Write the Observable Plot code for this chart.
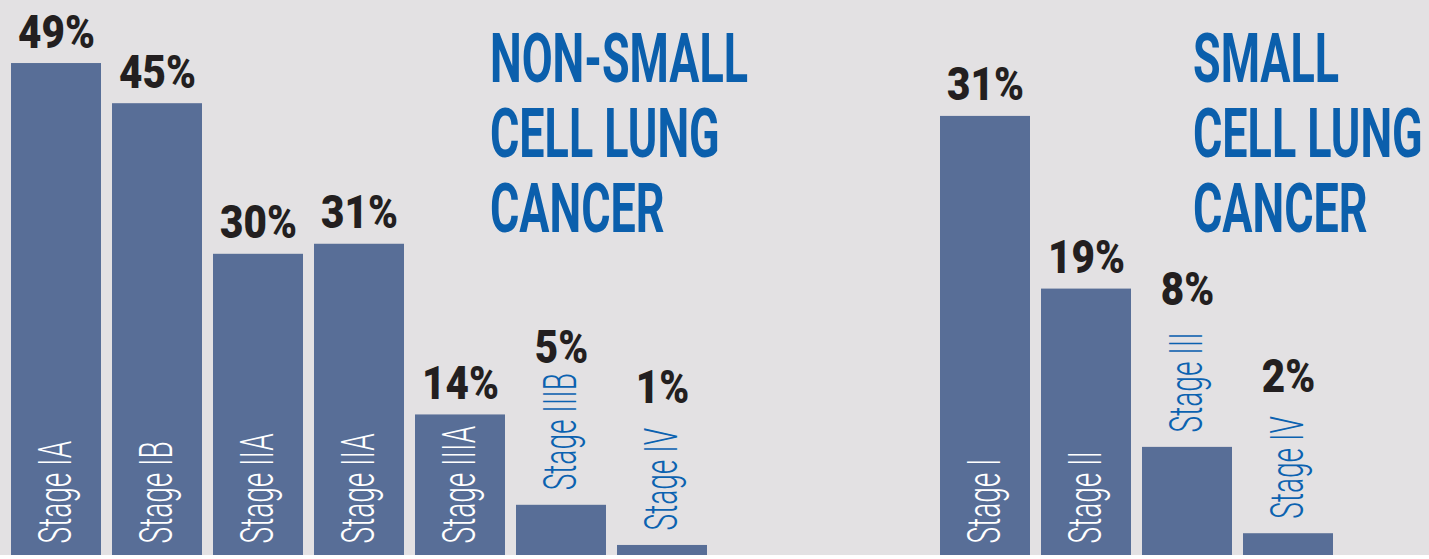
<!DOCTYPE html>
<html><head><meta charset="utf-8">
<script src="https://cdn.jsdelivr.net/npm/d3@7"></script>
<script src="https://cdn.jsdelivr.net/npm/@observablehq/plot@0.6"></script>
<style>
html,body{margin:0;padding:0;background:#fff;overflow:hidden}
#stage{position:relative;width:1429px;height:555px;background:#e3e1e3;overflow:hidden}
.panel{position:absolute;top:0}
.title{position:absolute;top:22px;font-family:Roboto,"Liberation Sans",sans-serif;font-weight:700;font-size:68px;line-height:75px;color:#0b5fac;transform:scaleX(0.66);transform-origin:0 0;white-space:nowrap}
</style></head>
<body><div id="stage"></div>
<script>
const nsclcStages = ["Stage IA","Stage IB","Stage IIA","Stage IIA","Stage IIIA","Stage IIIB","Stage IV"];
const nsclcValues = [49,45,30,31,14,5,1];
const sclcStages = ["Stage I","Stage II","Stage III","Stage IV"];
const sclcValues = [31,19,8,2];
const nsclcTitle = ["NON-SMALL","CELL LUNG","CANCER"];
const sclcTitle = ["SMALL","CELL LUNG","CANCER"];

const BAR = "#586e97", BLUE = "#0b62b0", INK = "#231f20";
const FONT = "Roboto, 'Liberation Sans', sans-serif";

function squash(g, sx) {
  g.querySelectorAll("text").forEach(t => {
    let tr = t.getAttribute("transform");
    if (!tr) {
      const x = t.getAttribute("x") || 0, y = t.getAttribute("y") || 0;
      t.removeAttribute("x"); t.removeAttribute("y");
      tr = `translate(${x},${y})`;
    }
    t.setAttribute("transform", tr + ` scale(${sx},1)`);
  });
}

function panel(stages, values, {width, height, yMax, left, insideDy}) {
  const rows = stages.map((s, i) => ({i, stage: s, value: values[i], label: values[i] + "%"}));
  const inside = d => d.value >= 10;
  const rin = rows.filter(inside), rout = rows.filter(d => !inside(d));
  const stageStyle = {text: "stage", rotate: -90, textAnchor: "start", lineAnchor: "middle", fontSize: 46, fontWeight: 300, fontFamily: FONT};
  const valStyle = {text: "label", lineAnchor: "bottom", fontSize: 47, fontWeight: 900, fontFamily: FONT, fill: INK};
  const svg = Plot.plot({
    width, height, marginTop: 0, marginBottom: 0, marginLeft: 0, marginRight: 0,
    style: {background: "transparent", overflow: "visible"},
    x: {type: "band", domain: rows.map(d => d.i), paddingInner: 0.109, paddingOuter: 0.109, align: 0.5, round: false, axis: null},
    y: {domain: [0, yMax], axis: null},
    marks: [
      Plot.barY(rows, {x: "i", y: "value", fill: BAR}),
      Plot.text(rin, {x: "i", y: 0, dy: insideDy, fill: "white", ...stageStyle}),
      Plot.text(rout, {x: "i", y: "value", dy: -15, fill: BLUE, ...stageStyle}),
      Plot.text(rin, {x: "i", y: "value", dy: -16, ...valStyle}),
      Plot.text(rout, {x: "i", y: "value", dy: -142, ...valStyle})
    ]
  });
  const groups = svg.querySelectorAll('g[aria-label="text"]');
  squash(groups[0], 0.61);
  squash(groups[1], 0.61);
  squash(groups[2], 0.86);
  squash(groups[3], 0.86);
  svg.classList.add("panel");
  svg.style.left = left + "px";
  return svg;
}

const stage = document.getElementById("stage");
stage.appendChild(panel(nsclcStages, nsclcValues, {width: 718, height: 555, yMax: 555 / 10.04, left: 0, insideDy: -12}));
stage.appendChild(panel(sclcStages, sclcValues, {width: 415, height: 562, yMax: 562 / 14.39, left: 929, insideDy: -19}));

function title(lines, left) {
  const div = document.createElement("div");
  div.className = "title";
  div.style.left = left + "px";
  lines.forEach(l => { const s = document.createElement("div"); s.textContent = l; div.appendChild(s); });
  stage.appendChild(div);
}
title(nsclcTitle, 490);
title(sclcTitle, 1193);
</script>
</body></html>
